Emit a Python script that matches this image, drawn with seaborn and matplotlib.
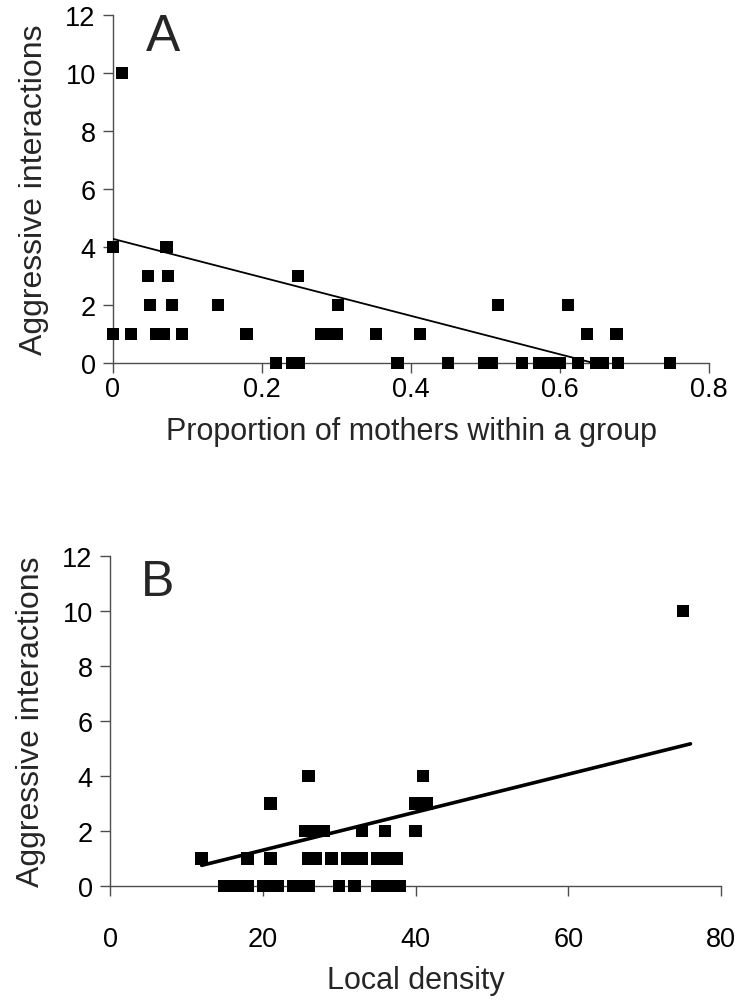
import matplotlib
matplotlib.use("Agg")
import matplotlib.pyplot as plt
import seaborn as sns
import pandas as pd

# ---- Panel A data ----
prop_mothers = [0.012, 0.0, 0.072, 0.047, 0.074, 0.248, 0.05, 0.079, 0.141, 0.302,
                0.517, 0.611, 0.0, 0.024, 0.058, 0.068, 0.093, 0.179, 0.28, 0.29,
                0.30, 0.353, 0.412, 0.636, 0.676, 0.219, 0.24, 0.25, 0.382, 0.45,
                0.498, 0.509, 0.549, 0.572, 0.586, 0.60, 0.624, 0.648, 0.658,
                0.678, 0.748]
aggr_a = [10, 4, 4, 3, 3, 3, 2, 2, 2, 2, 2, 2,
          1, 1, 1, 1, 1, 1, 1, 1, 1, 1, 1, 1, 1,
          0, 0, 0, 0, 0, 0, 0, 0, 0, 0, 0, 0, 0, 0, 0, 0]
trend_a_x = [0.0, 0.645]
trend_a_y = [4.28, 0.0]

# ---- Panel B data ----
local_density = [75, 26, 41, 21, 40, 41.5, 25.5, 27, 28, 33, 36, 40,
                 12, 18, 21, 26, 27, 29, 31, 32, 33, 35, 36.5, 37.5,
                 15, 16, 17, 18, 20, 21, 22, 24, 25, 26, 30, 32, 35, 36, 37, 38]
aggr_b = [10, 4, 4, 3, 3, 3, 2, 2, 2, 2, 2, 2,
          1, 1, 1, 1, 1, 1, 1, 1, 1, 1, 1, 1,
          0, 0, 0, 0, 0, 0, 0, 0, 0, 0, 0, 0, 0, 0, 0, 0]
trend_b_x = [12, 76]
trend_b_y = [0.75, 5.17]

xticks_a = [0, 0.2, 0.4, 0.6, 0.8]
xticklabels_a = ["0", "0.2", "0.4", "0.6", "0.8"]
xticks_b = [0, 20, 40, 60, 80]
yticks = [0, 2, 4, 6, 8, 10, 12]

sns.set_style("ticks")
plt.rcParams['font.family'] = ['Liberation Sans', 'DejaVu Sans']

W, H = 735, 1003
fig = plt.figure(figsize=(W / 100, H / 100), dpi=100)

spine_col = "#4d4d4d"
tick_fs = 19.5
label_fs = 22
ylabel_fs = 23

def style(ax):
    sns.despine(ax=ax)
    for s in ("left", "bottom"):
        ax.spines[s].set_color(spine_col)
        ax.spines[s].set_linewidth(1.0)
        ax.spines[s].set_zorder(1)
    ax.tick_params(axis="both", direction="out", length=7.5, width=1.0,
                   color=spine_col, labelsize=tick_fs, labelcolor="black")
    ax.set_yticks(yticks)
    ax.set_ylim(0, 12)
    ax.set_facecolor("white")

# Panel A
axA = fig.add_axes([113 / W, 1 - 364 / H, (709 - 113) / W, 348 / H])
dfA = pd.DataFrame({"x": prop_mothers, "y": aggr_a})
sns.lineplot(x=trend_a_x, y=trend_a_y, ax=axA, color="black", linewidth=1.3, zorder=2)
sns.scatterplot(data=dfA, x="x", y="y", ax=axA, marker="s", s=80, color="black",
                edgecolor="none", linewidth=0, zorder=3, clip_on=False)
style(axA)
axA.set_xlim(0, 0.8)
axA.set_xticks(xticks_a)
axA.set_xticklabels(xticklabels_a)
axA.tick_params(axis="x", pad=2)
axA.tick_params(axis="y", pad=5)
axA.set_xlabel("Proportion of mothers within a group", fontsize=label_fs, labelpad=10)
axA.set_ylabel("Aggressive interactions", fontsize=ylabel_fs, labelpad=12)
fig.text(146 / W, 1 - 13 / H, "A", fontsize=37, ha="left", va="top")

# Panel B
axB = fig.add_axes([110 / W, 1 - 887 / H, (721 - 110) / W, 330 / H])
dfB = pd.DataFrame({"x": local_density, "y": aggr_b})
sns.lineplot(x=trend_b_x, y=trend_b_y, ax=axB, color="black", linewidth=2.6, zorder=2)
sns.scatterplot(data=dfB, x="x", y="y", ax=axB, marker="s", s=80, color="black",
                edgecolor="none", linewidth=0, zorder=3, clip_on=False)
style(axB)
axB.set_xlim(0, 80)
axB.set_xticks(xticks_b)
axB.tick_params(axis="x", pad=21)
axB.tick_params(axis="y", pad=5)
axB.set_xlabel("Local density", fontsize=label_fs, labelpad=10)
axB.set_ylabel("Aggressive interactions", fontsize=ylabel_fs, labelpad=12)
fig.text(141 / W, 1 - 560 / H, "B", fontsize=36, ha="left", va="top")

for ax in (axA, axB):
    leg = ax.get_legend()
    if leg:
        leg.remove()

fig.savefig("out.png", dpi=100, facecolor="white")
